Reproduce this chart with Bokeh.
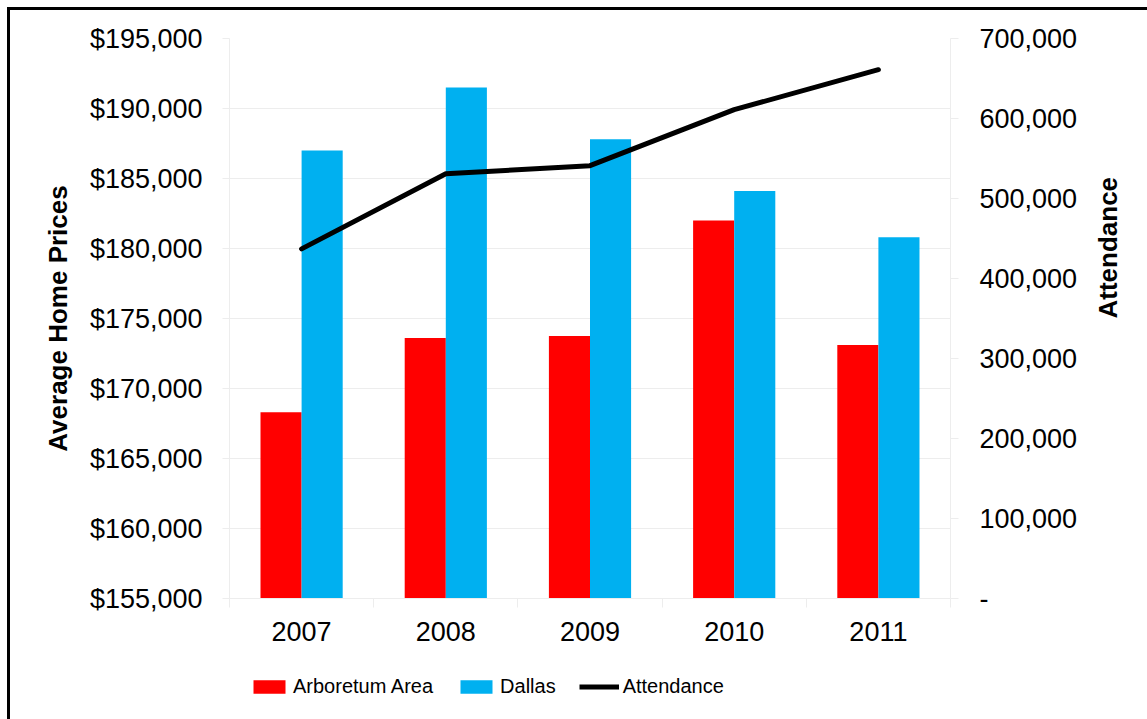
import math
from bokeh.plotting import figure
from bokeh.layouts import column
from bokeh.models import (Range1d, LinearAxis, FixedTicker, NumeralTickFormatter,
                          Legend, LegendItem, ColumnDataSource, InlineStyleSheet)
from bokeh.transform import dodge
from bokeh.embed import file_html
from bokeh.resources import INLINE

# ---- data ----
years = ["2007", "2008", "2009", "2010", "2011"]
arboretum = [168300, 173600, 173750, 182000, 173100]
dallas = [187000, 191500, 187800, 184100, 180800]
attendance = [437000, 531000, 541000, 611000, 661000]
price_ticks = [155000, 160000, 165000, 170000, 175000, 180000, 185000, 190000, 195000]
att_ticks = [0, 100000, 200000, 300000, 400000, 500000, 600000, 700000]
series_names = ["Arboretum Area", "Dallas", "Attendance"]
RED, BLUE, BLACK = "#FF0000", "#00B0F0", "#000000"

FONT = "Liberation Sans"
FAINT = "#ededed"

x = list(range(len(years)))
src = ColumnDataSource(dict(x=x, year=years, arb=arboretum, dal=dallas, att=attendance))

p = figure(width=1147, height=668, frame_width=721, frame_height=560,
           output_backend="svg", toolbar_location=None,
           x_range=Range1d(-0.5, len(years) - 0.5),
           y_range=Range1d(price_ticks[0], price_ticks[-1]),
           min_border_left=229, min_border_right=197, min_border_top=38, min_border_bottom=70)
p.extra_y_ranges = {"att": Range1d(att_ticks[0], att_ticks[-1])}
p.outline_line_color = None
p.background_fill_color = "white"
p.border_fill_color = "white"

bw = 0.285
p.vbar(x=dodge("x", -bw / 2), top="arb", bottom=price_ticks[0], width=bw,
       fill_color=RED, line_color=None, source=src)
p.vbar(x=dodge("x", bw / 2), top="dal", bottom=price_ticks[0], width=bw,
       fill_color=BLUE, line_color=None, source=src)
p.line("x", "att", y_range_name="att", line_color=BLACK, line_width=5,
       line_cap="round", line_join="round", source=src)

# x axis
xa = p.xaxis[0]
xa.ticker = FixedTicker(ticks=x, minor_ticks=[i - 0.5 for i in range(len(years) + 1)])
xa.major_label_overrides = {i: yv for i, yv in enumerate(years)}
xa.major_tick_line_color = None
xa.major_tick_out = 0
xa.minor_tick_out = 9
xa.minor_tick_in = 0
xa.minor_tick_line_color = FAINT
xa.axis_line_color = FAINT
xa.major_label_standoff = 14
xa.major_label_text_font = FONT
xa.major_label_text_font_size = "27px"
xa.major_label_text_color = "black"

# left axis
ya = p.yaxis[0]
ya.ticker = FixedTicker(ticks=price_ticks)
ya.formatter = NumeralTickFormatter(format="$0,0")
ya.major_tick_out = 7
ya.major_tick_in = 0
ya.major_tick_line_color = FAINT
ya.minor_tick_line_color = None
ya.axis_line_color = FAINT
ya.major_label_standoff = 20
ya.major_label_text_font = FONT
ya.major_label_text_font_size = "27px"
ya.major_label_text_color = "black"
ya.axis_label = "Average Home Prices"
ya.axis_label_text_font = FONT
ya.axis_label_text_font_size = "26px"
ya.axis_label_text_font_style = "bold"
ya.axis_label_text_color = "black"
ya.axis_label_standoff = 14

# right axis
ra = LinearAxis(y_range_name="att", ticker=FixedTicker(ticks=att_ticks),
                formatter=NumeralTickFormatter(format="0,0"))
ra.major_label_overrides = {0: "-"}
ra.major_tick_out = 8
ra.major_tick_in = 0
ra.major_tick_line_color = FAINT
ra.minor_tick_line_color = None
ra.axis_line_color = FAINT
ra.major_label_standoff = 21
ra.major_label_text_font = FONT
ra.major_label_text_font_size = "27px"
ra.major_label_text_color = "black"
ra.axis_label = "Attendance"
ra.axis_label_text_font = FONT
ra.axis_label_text_font_size = "26px"
ra.axis_label_text_font_style = "bold"
ra.axis_label_text_color = "black"
ra.axis_label_standoff = 28
ra.axis_label_orientation = math.pi / 2
p.add_layout(ra, "right")

p.xgrid.grid_line_color = None
p.ygrid.grid_line_color = FAINT

# ---- legend strip below the chart (frame aligned with the chart's frame) ----
q = figure(width=1147, height=51, output_backend="svg", toolbar_location=None,
           x_axis_type=None, y_axis_type=None,
           x_range=Range1d(-0.5, len(years) - 0.5),
           y_range=Range1d(price_ticks[0], price_ticks[-1]),
           min_border_left=229, min_border_right=197, min_border_top=0, min_border_bottom=0)
q.outline_line_color = None
q.grid.visible = False
q.background_fill_color = "white"
q.border_fill_color = "white"
g1 = q.vbar(x="x", top="arb", bottom=price_ticks[0], width=bw, fill_color=RED,
            line_color=None, source=src, visible=False)
g2 = q.vbar(x="x", top="dal", bottom=price_ticks[0], width=bw, fill_color=BLUE,
            line_color=None, source=src, visible=False)
g3 = q.line(x="x", y="att", line_color=BLACK, line_width=5, source=src, visible=False)

legend = Legend(items=[LegendItem(label=series_names[0], renderers=[g1]),
                       LegendItem(label=series_names[1], renderers=[g2]),
                       LegendItem(label=series_names[2], renderers=[g3])],
                orientation="horizontal", location=(20, 21),
                glyph_width=40, glyph_height=17, label_standoff=4, spacing=23,
                padding=0, margin=0, label_text_font=FONT, label_text_font_size="20px",
                label_text_color="black", border_line_color=None, background_fill_alpha=0,
                inactive_fill_alpha=0, click_policy="none")
q.add_layout(legend, "center")

page = column(p, q, spacing=0)
page.stylesheets = [InlineStyleSheet(css=""":host{position:relative;}
:host::after{content:''; position:absolute; left:7px; top:7px;
 right:0; bottom:0; border-top:3px solid black; border-left:3px solid black; pointer-events:none; z-index:10;}""")]

open("out.html", "w").write(file_html(page, INLINE))
